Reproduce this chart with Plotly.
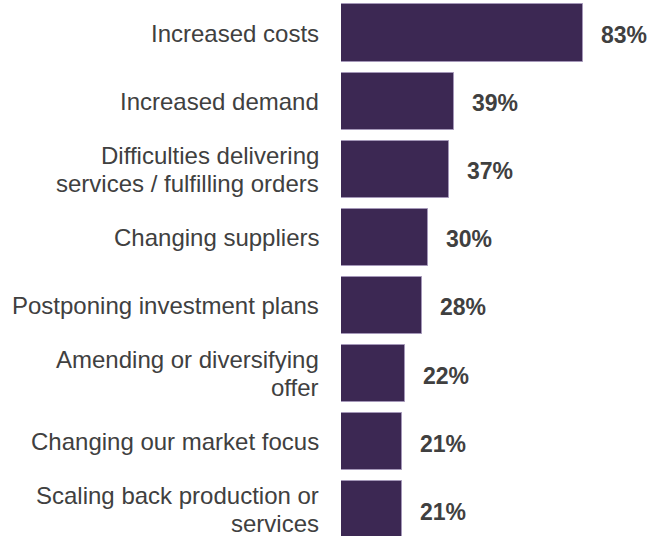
import plotly.graph_objects as go

categories = [
    "Increased costs",
    "Increased demand",
    "Difficulties delivering<br>services / fulfilling orders",
    "Changing suppliers",
    "Postponing investment plans",
    "Amending or diversifying<br>offer",
    "Changing our market focus",
    "Scaling back production or<br>services",
]
values = [83, 39, 37, 30, 28, 22, 21, 21]
value_labels = [f"{v}%" for v in values]

BAR_COLOR = "#3c2853"
TEXT_COLOR = "#404040"
FONT = "Liberation Sans, Arial, sans-serif"
LINE_STEP = 27.7  # px between baselines of wrapped category labels

fig = go.Figure(
    go.Bar(
        x=values,
        y=categories,
        orientation="h",
        width=0.84,
        marker=dict(color=BAR_COLOR, line=dict(color="#a497b8", width=1)),
        hoverinfo="skip",
    )
)

# value labels to the right of each bar
for cat, v, lab in zip(categories, values, value_labels):
    fig.add_annotation(
        x=v, y=cat, text=f"<b>{lab}</b>", showarrow=False,
        xanchor="left", xshift=16, yshift=-2,
        font=dict(family=FONT, size=23, color=TEXT_COLOR),
    )

# category labels, right-aligned left of the bars, one annotation per line
for cat in categories:
    lines = cat.split("<br>")
    n = len(lines)
    for i, line in enumerate(lines):
        fig.add_annotation(
            xref="paper", x=0, y=cat, text=line, showarrow=False,
            xanchor="right", xshift=-20,
            yshift=((n - 1) / 2 - i) * LINE_STEP,
            font=dict(family=FONT, size=24, color=TEXT_COLOR),
        )

fig.update_layout(
    width=660, height=536,
    margin=dict(l=341, r=28, t=0, b=0),
    paper_bgcolor="white", plot_bgcolor="white",
    showlegend=False,
    bargap=0,
    font=dict(family=FONT, size=24, color=TEXT_COLOR),
)
fig.update_xaxes(range=[0, 100], visible=False, fixedrange=True)
fig.update_yaxes(
    categoryorder="array", categoryarray=categories,
    range=[7.386, -0.4846],
    showgrid=False, zeroline=False, showline=False, ticks="",
    showticklabels=False,
)

fig.write_html("out.html")
